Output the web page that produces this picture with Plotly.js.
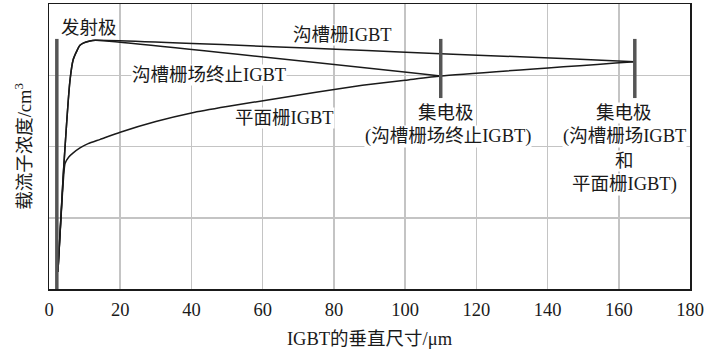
<!DOCTYPE html>
<html>
<head>
<meta charset="utf-8">
<script src="https://cdn.plot.ly/plotly-3.0.1.min.js"></script>
<style>html,body{margin:0;padding:0;background:#fff;}#chart{width:704px;height:349px;}</style>
</head>
<body>
<div id="chart"></div>
<script>
// Trench gate IGBT (沟槽栅IGBT)
const trenchX = [2.5, 4.0, 5.9, 6.8, 7.9, 8.7, 9.6, 11.5, 13.0, 164.5];
const trenchY = [0.24, 1.6, 2.93, 3.22, 3.35, 3.42, 3.45, 3.48, 3.49, 3.19];
// Trench gate field-stop IGBT (沟槽栅场终止IGBT)
const fsX = [2.5, 4.0, 5.9, 6.8, 7.9, 8.7, 9.6, 11.5, 13.0, 110];
const fsY = [0.24, 1.6, 2.93, 3.22, 3.35, 3.42, 3.45, 3.48, 3.49, 2.99];
// Planar gate IGBT (平面栅IGBT)
const planarX = [2.5, 3.6, 4.5, 5.5, 6.8, 8.7, 11, 14.4, 20, 30, 40, 50, 61, 75, 88, 100, 110, 164.5];
const planarY = [0.24, 1.2, 1.76, 1.85, 1.91, 1.98, 2.04, 2.1, 2.2, 2.35, 2.47, 2.56, 2.65, 2.76, 2.86, 2.93, 2.99, 3.19];
// Electrode bars
const emitterX = [2.2, 2.2];
const emitterY = [0, 3.51];
const collectorFsX = [110, 110];
const collectorFsY = [2.68, 3.51];
const collectorX = [164.5, 164.5];
const collectorY = [2.68, 3.51];
const xTicks = [0, 20, 40, 60, 80, 100, 120, 140, 160, 180];

const FONT = "Liberation Serif, 'Noto Sans CJK SC', serif";
const FS = 18.5;
const curve = {color: '#1a1a1a', width: 1.5, shape: 'spline', smoothing: 0.5};
const barStyle = {color: '#555555', width: 3.5};

const traces = [
  {x: trenchX, y: trenchY, mode: 'lines', line: curve},
  {x: fsX, y: fsY, mode: 'lines', line: curve},
  {x: planarX, y: planarY, mode: 'lines', line: curve},
  {x: emitterX, y: emitterY, mode: 'lines', line: barStyle},
  {x: collectorFsX, y: collectorFsY, mode: 'lines', line: barStyle},
  {x: collectorX, y: collectorY, mode: 'lines', line: barStyle}
];
traces.forEach(t => { t.showlegend = false; t.hoverinfo = 'skip'; });

const ann = (x, y, text) => ({
  x: x, y: y, xref: 'x', yref: 'y', text: text, showarrow: false,
  font: {family: FONT, size: FS, color: '#1a1a1a'},
  bgcolor: '#ffffff', borderpad: 0
});

const layout = {
  width: 704, height: 349,
  margin: {l: 48.5, r: 14, t: 4, b: 60},
  paper_bgcolor: '#ffffff', plot_bgcolor: '#ffffff',
  font: {family: FONT, size: FS, color: '#1a1a1a'},
  showlegend: false,
  xaxis: {
    range: [0, 180], tickvals: xTicks, ticktext: xTicks.map(String),
    showgrid: true, gridcolor: '#c4c4c4', gridwidth: 1.5,
    showline: true, linecolor: '#1a1a1a', linewidth: 1.5, mirror: true,
    ticks: 'outside', ticklen: 3, tickcolor: '#ffffff', zeroline: false,
    tickfont: {family: FONT, size: FS, color: '#1a1a1a'},
    title: {text: 'IGBT的垂直尺寸/μm', font: {family: FONT, size: FS, color: '#1a1a1a'}, standoff: 14}
  },
  yaxis: {
    range: [0, 4], dtick: 1, showticklabels: false,
    showgrid: true, gridcolor: '#c4c4c4', gridwidth: 1.5,
    showline: true, linecolor: '#1a1a1a', linewidth: 1.5, mirror: true,
    ticks: '', zeroline: false,
    title: {text: '载流子浓度/cm<sup>3</sup>', font: {family: FONT, size: FS, color: '#1a1a1a'}, standoff: 11}
  },
  annotations: [
    ann(11.3, 3.66, '发射极'),
    ann(82.5, 3.57, '沟槽栅IGBT'),
    ann(44.8, 3.0, '沟槽栅场终止IGBT'),
    ann(66.2, 2.4, '平面栅IGBT'),
    ann(111.5, 2.47, '集电极'),
    ann(112, 2.14, '(沟槽栅场终止IGBT)'),
    ann(161.5, 2.47, '集电极'),
    ann(161.5, 2.14, '(沟槽栅场IGBT'),
    ann(161.5, 1.8, '和'),
    ann(161.5, 1.46, '平面栅IGBT)')
  ]
};

Plotly.newPlot('chart', traces, layout, {displayModeBar: false, staticPlot: true});
</script>
</body>
</html>
